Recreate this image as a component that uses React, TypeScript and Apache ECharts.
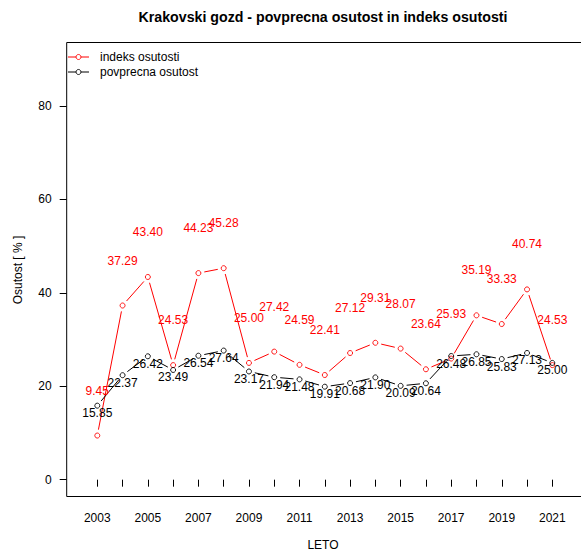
import React, { useEffect, useRef } from "react";
import * as echarts from "echarts";

const years = [2003, 2004, 2005, 2006, 2007, 2008, 2009, 2010, 2011, 2012, 2013, 2014, 2015, 2016, 2017, 2018, 2019, 2020, 2021];
const indeksOsutosti = [9.45, 37.29, 43.40, 24.53, 44.23, 45.28, 25.00, 27.42, 24.59, 22.41, 27.12, 29.31, 28.07, 23.64, 25.93, 35.19, 33.33, 40.74, 24.53];
const povprecnaOsutost = [15.85, 22.37, 26.42, 23.49, 26.54, 27.64, 23.17, 21.94, 21.48, 19.91, 20.68, 21.90, 20.09, 20.64, 26.48, 26.85, 25.83, 27.13, 25.00];
const xLabelYears = [2003, 2005, 2007, 2009, 2011, 2013, 2015, 2017, 2019, 2021];
const yTicks = [0, 20, 40, 60, 80];
const seriesNames = ["indeks osutosti", "povprecna osutost"];
const seriesColors = ["#ff0000", "#000000"];
const titleText = "Krakovski gozd - povprecna osutost in indeks osutosti";
const xName = "LETO";
const yName = "Osutost [ % ]";

const FONT = '"Liberation Sans", Arial, sans-serif';

function gappedSegments(values: number[], color: string, name: string) {
  const data = years.map((y, i) => [y, values[i]]);
  return {
    type: "custom",
    name: name + "-lines",
    silent: true,
    data,
    z: 2,
    renderItem: (params: any, api: any) => {
      const i = params.dataIndex;
      if (i >= data.length - 1) return null;
      const p0 = api.coord(data[i]);
      const p1 = api.coord(data[i + 1]);
      const dx = p1[0] - p0[0];
      const dy = p1[1] - p0[1];
      const len = Math.sqrt(dx * dx + dy * dy);
      const gap = 6;
      if (len <= gap * 2) return null;
      const ux = dx / len;
      const uy = dy / len;
      return {
        type: "line",
        shape: {
          x1: p0[0] + ux * gap,
          y1: p0[1] + uy * gap,
          x2: p1[0] - ux * gap,
          y2: p1[1] - uy * gap,
        },
        style: { stroke: color, lineWidth: 1 },
      };
    },
  };
}

function pointSeries(values: number[], color: string, name: string, offsetY: number) {
  return {
    type: "scatter",
    name,
    silent: true,
    z: 3,
    symbol: "circle",
    symbolSize: 5,
    itemStyle: { color: "rgba(255,255,255,0)", borderColor: color, borderWidth: 0.9, opacity: 1 },
    data: years.map((y, i) => [y, values[i]]),
    label: {
      show: true,
      position: "inside",
      offset: [0, offsetY],
      formatter: (p: any) => Number(p.value[1]).toFixed(2),
      color,
      fontSize: 12,
      fontFamily: FONT,
      textBorderWidth: 0,
    },
    emphasis: { disabled: true },
  };
}

export default function App() {
  const ref = useRef<HTMLDivElement>(null);
  useEffect(() => {
    if (!ref.current) return;
    const chart = echarts.init(ref.current, undefined, { renderer: "svg" });
    const legendGraphics: any[] = [];
    seriesNames.forEach((n, i) => {
      const y = 57 + i * 15;
      legendGraphics.push({
        type: "line",
        shape: { x1: 68, y1: y, x2: 76, y2: y },
        style: { stroke: seriesColors[i], lineWidth: 1 },
        silent: true,
      });
      legendGraphics.push({
        type: "line",
        shape: { x1: 81, y1: y, x2: 89, y2: y },
        style: { stroke: seriesColors[i], lineWidth: 1 },
        silent: true,
      });
      legendGraphics.push({
        type: "circle",
        shape: { cx: 78.5, cy: y, r: 2.5 },
        style: { stroke: seriesColors[i], fill: "none", lineWidth: 0.9 },
        silent: true,
      });
      legendGraphics.push({
        type: "text",
        x: 100,
        y,
        style: {
          text: n,
          fill: "#000",
          fontSize: 12,
          fontFamily: FONT,
          align: "left",
          verticalAlign: "middle",
        },
        silent: true,
      });
    });
    chart.setOption({
      animation: false,
      backgroundColor: "#fff",
      grid: {
        left: 66.7,
        top: 42.5,
        width: 516.2,
        height: 454,
        show: true,
        borderColor: "#000",
        borderWidth: 1,
        backgroundColor: "transparent",
      },
      xAxis: {
        type: "value",
        min: 2001.79,
        max: 2022.21,
        axisLine: { show: false },
        splitLine: { show: false },
        axisTick: {
          show: true,
          length: 7,
          customValues: years,
          lineStyle: { color: "#000", width: 1 },
        },
        axisLabel: {
          show: true,
          customValues: xLabelYears,
          margin: 15,
          fontSize: 12,
          fontFamily: FONT,
          color: "#000",
          formatter: (v: number) => String(v),
        },
      },
      yAxis: {
        type: "value",
        min: -3.6,
        max: 93.6,
        axisLine: { show: false },
        splitLine: { show: false },
        axisTick: {
          show: true,
          length: 7,
          customValues: yTicks,
          lineStyle: { color: "#000", width: 1 },
        },
        axisLabel: {
          show: true,
          customValues: yTicks,
          margin: 15,
          fontSize: 12,
          fontFamily: FONT,
          color: "#000",
          formatter: (v: number) => String(v),
        },
      },
      graphic: [
        {
          type: "text",
          x: 323,
          y: 17,
          style: {
            text: titleText,
            fill: "#000",
            fontSize: 14.2,
            fontWeight: "bold",
            fontFamily: FONT,
            align: "center",
            verticalAlign: "middle",
          },
          silent: true,
        },
        {
          type: "text",
          x: 323,
          y: 545,
          style: {
            text: xName,
            fill: "#000",
            fontSize: 12,
            fontFamily: FONT,
            align: "center",
            verticalAlign: "middle",
          },
          silent: true,
        },
        {
          type: "text",
          x: 18,
          y: 270,
          rotation: Math.PI / 2,
          style: {
            text: yName,
            fill: "#000",
            fontSize: 12,
            fontFamily: FONT,
            align: "center",
            verticalAlign: "middle",
          },
          silent: true,
        },
        ...legendGraphics,
      ],
      series: [
        gappedSegments(indeksOsutosti, seriesColors[0], seriesNames[0]),
        gappedSegments(povprecnaOsutost, seriesColors[1], seriesNames[1]),
        pointSeries(indeksOsutosti, seriesColors[0], seriesNames[0], -45),
        pointSeries(povprecnaOsutost, seriesColors[1], seriesNames[1], 7.5),
      ],
    });
    return () => chart.dispose();
  }, []);
  return (
    <div
      style={{
        position: "fixed",
        left: 0,
        top: 0,
        width: 581,
        height: 551,
        overflow: "hidden",
        background: "#fff",
      }}
    >
      <div ref={ref} style={{ width: 600, height: 551 }} />
    </div>
  );
}
